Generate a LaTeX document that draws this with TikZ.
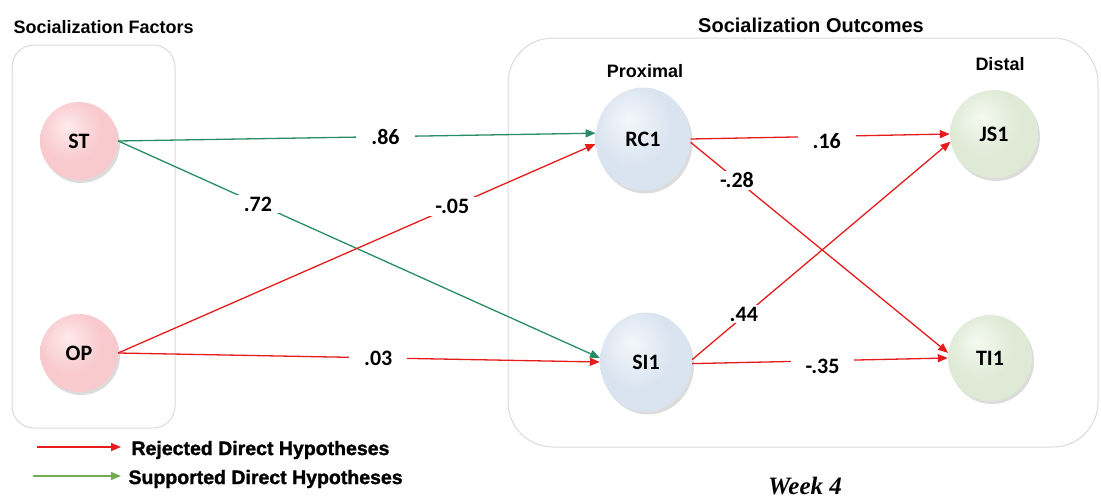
\documentclass[tikz,border=0pt]{standalone}
\usepackage{fontspec}
\setmainfont{Liberation Sans}
\newfontfamily\calfont{Carlito}
\newfontfamily\serffont{Liberation Serif}
\newfontfamily\heavyfont{Liberation Sans}[BoldFeatures={FakeBold=1.5}]
\usetikzlibrary{arrows.meta,shapes.geometric,shadows}
\definecolor{rejred}{RGB}{230,28,28}
\definecolor{supgreen}{RGB}{40,140,100}
\definecolor{leggreen}{RGB}{115,172,85}
\definecolor{boxgray}{RGB}{218,218,218}
\definecolor{pinkin}{RGB}{255,234,234}
\definecolor{pinkmid}{RGB}{248,202,206}
\definecolor{pinkout}{RGB}{232,158,164}
\definecolor{bluein}{RGB}{244,247,252}
\definecolor{bluemid}{RGB}{218,228,240}
\definecolor{blueout}{RGB}{182,199,222}
\definecolor{greenin}{RGB}{246,249,240}
\definecolor{greenmid}{RGB}{222,234,214}
\definecolor{greenout}{RGB}{190,212,184}
\pgfdeclareradialshading{ballpink}{\pgfpoint{-8bp}{10bp}}{color(0bp)=(pinkin); color(20bp)=(pinkmid); color(36bp)=(pinkmid); color(50bp)=(pinkout); color(60bp)=(pinkout)}
\pgfdeclareradialshading{ballblue}{\pgfpoint{-8bp}{10bp}}{color(0bp)=(bluein); color(20bp)=(bluemid); color(36bp)=(bluemid); color(50bp)=(blueout); color(60bp)=(blueout)}
\pgfdeclareradialshading{ballgreen}{\pgfpoint{-8bp}{10bp}}{color(0bp)=(greenin); color(20bp)=(greenmid); color(36bp)=(greenmid); color(50bp)=(greenout); color(60bp)=(greenout)}
\tikzset{
  grpbox/.style={draw=boxgray, line width=1pt},
  latent/.style={ellipse, inner sep=0pt, text=black,
    font=\calfont\bfseries\fontsize{22}{22}\selectfont,
    drop shadow={shadow xshift=2pt, shadow yshift=-3pt, opacity=0.28}},
  pinkc/.style={latent, shading=ballpink,
    minimum width=78pt, minimum height=78pt},
  bluec/.style={latent, shading=ballblue,
    minimum width=95pt, minimum height=103pt},
  greenc/.style={latent, shading=ballgreen,
    minimum width=88pt, minimum height=88pt},
  rej/.style={draw=rejred, line width=1.3pt, -{Triangle[length=10pt,width=8pt]}},
  sup/.style={draw=supgreen, line width=1.3pt, -{Triangle[length=10pt,width=8pt]}},
  legsup/.style={draw=leggreen, line width=1.3pt, -{Triangle[length=10pt,width=8pt]}},
  lbl/.style={fill=white, inner xsep=15pt, inner ysep=2pt,
    font=\calfont\bfseries\fontsize{22}{22}\selectfont},
  title/.style={font=\bfseries\fontsize{18}{18}\selectfont},
  legtext/.style={anchor=west, font=\heavyfont\bfseries\fontsize{19.5}{20}\selectfont}
}
\begin{document}
\begin{tikzpicture}[x=1pt,y=-1pt]
\useasboundingbox (0,0) rectangle (1101,498);
% group boxes
\draw[grpbox, rounded corners=22pt] (12,45) rectangle (175,428);
\draw[grpbox, rounded corners=45pt] (508,38) rectangle (1098,447);
% titles
\node[title, anchor=west] (tf) at (10,27) {Socialization Factors};
\node[title, font=\bfseries\fontsize{20}{20}\selectfont] (to) at (811,25) {Socialization Outcomes};
\node[title] (prox) at (645,71) {Proximal};
\node[title] (dist) at (1000,64) {Distal};
% latent nodes
\node[pinkc] (ST) at (79,141) {ST};
\node[pinkc] (OP) at (79,353) {OP};
\node[bluec] (RC1) at (643,139) {RC1};
\node[bluec, minimum width=92pt, minimum height=99pt] (SI1) at (646,362) {SI1};
\node[greenc] (JS1) at (994,134) {JS1};
\node[greenc, minimum width=84pt, minimum height=86pt] (TI1) at (990,358) {TI1};
% paths
\draw[sup] (ST.east) -- node[lbl, pos=0.56] {.86} (RC1.173);
\draw[sup] (ST.east) -- node[lbl, pos=0.29] {.72} (SI1.175);
\draw[rej] (OP.east) -- node[lbl, pos=0.70] {-.05} (RC1.186);
\draw[rej] (OP.east) -- node[lbl, pos=0.54] {.03} (SI1.west);
\draw[rej] (RC1.east) -- node[lbl, pos=0.525, yshift=-5pt] {.16} (JS1.west);
\draw[rej] (RC1.356) -- node[lbl, pos=0.18] {-.28} (TI1.173);
\draw[rej] (SI1.3) -- node[lbl, pos=0.2, yshift=2pt] {.44} (JS1.190);
\draw[rej] (SI1.358) -- node[lbl, pos=0.51, yshift=-6pt] {-.35} (TI1.west);
% legend
\coordinate (r1) at (37,447);
\coordinate (r2) at (121,447);
\coordinate (g1) at (33,476);
\coordinate (g2) at (121,476);
\draw[rej] (r1) -- (r2);
\draw[legsup] (g1) -- (g2);
\node[legtext] (rt) at (128,450) {Rejected Direct Hypotheses};
\node[legtext] (gt) at (125,479) {Supported Direct Hypotheses};
% week label
\node[font=\serffont\bfseries\itshape\fontsize{25}{25}\selectfont] (wk) at (805,486) {Week 4};
\end{tikzpicture}
\end{document}
